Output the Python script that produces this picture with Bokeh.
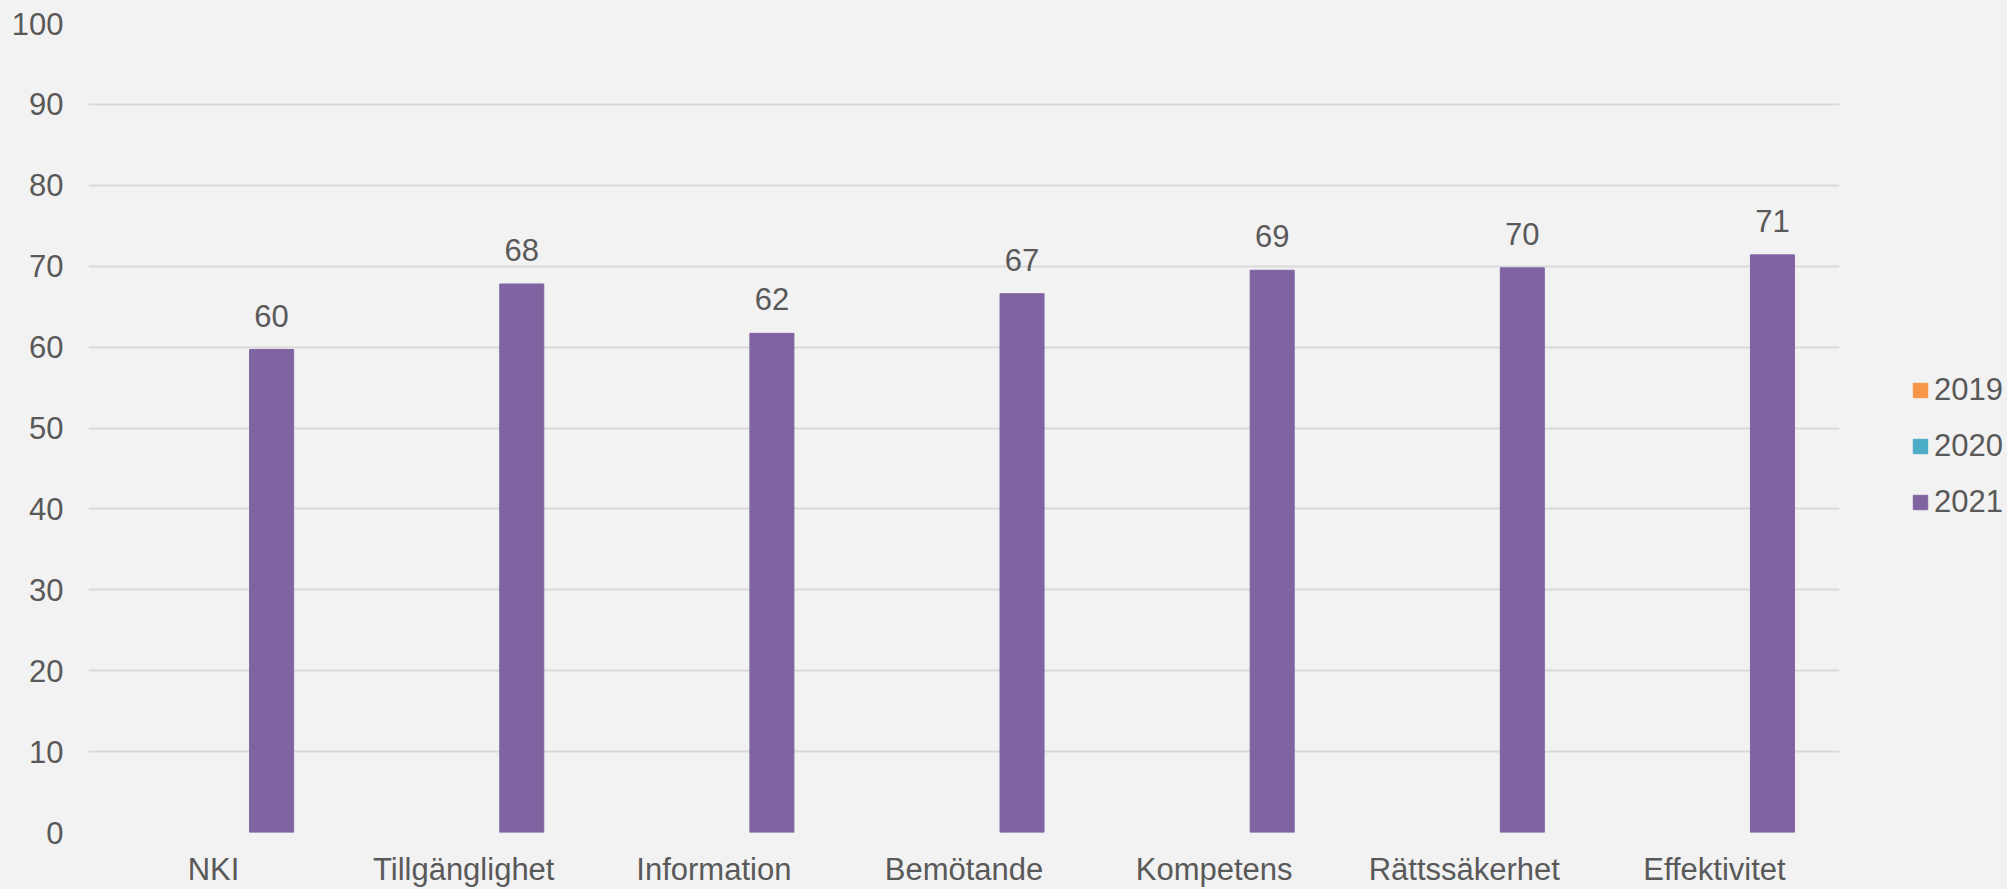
from bokeh.plotting import figure
from bokeh.layouts import row
from bokeh.models import ColumnDataSource, FactorRange, Legend, LegendItem, SingleIntervalTicker, Range1d
from bokeh.transform import dodge
from bokeh.embed import file_html
from bokeh.resources import INLINE

categories = ["NKI", "Tillgänglighet", "Information", "Bemötande", "Kompetens", "Rättssäkerhet", "Effektivitet"]
values_2019 = [float("nan")] * 7
values_2020 = [float("nan")] * 7
values_2021 = [59.7, 67.8, 61.7, 66.6, 69.5, 69.8, 71.4]
labels_2021 = ["60", "68", "62", "67", "69", "70", "71"]
series_names = ["2019", "2020", "2021"]
series_colors = ["#F79646", "#4BACC6", "#8064A2"]

FONT = "Liberation Sans"
TXT = "#595959"
BG = "#F2F2F2"
FS = "31px"

source = ColumnDataSource(dict(cat=categories, v2019=values_2019, v2020=values_2020,
                               v2021=values_2021, lab=labels_2021))

p = figure(x_range=FactorRange(*categories, range_padding=0), y_range=(0, 100),
           width=1845, height=889, output_backend="svg", toolbar_location=None,
           min_border_left=88, min_border_right=6, min_border_top=23, min_border_bottom=55)
p.background_fill_color = BG
p.border_fill_color = BG
p.outline_line_color = None

w = 0.176
off = [-0.232, 0.0, 0.232]
for name, col, o in zip(series_names, series_colors, off):
    p.vbar(x=dodge("cat", o, range=p.x_range), top="v" + name, width=w, source=source,
           fill_color=col, line_color=col)

p.text(x=dodge("cat", off[2], range=p.x_range), y="v2021", text="lab", source=source,
       text_align="center", text_baseline="alphabetic", y_offset=-34,
       text_font={"value": FONT}, text_font_size=FS, text_color=TXT)

p.yaxis.ticker = SingleIntervalTicker(interval=10)
for ax in (p.xaxis, p.yaxis):
    ax.axis_line_color = None
    ax.major_tick_line_color = None
    ax.minor_tick_line_color = None
    ax.major_tick_out = 0
    ax.major_tick_in = 0
    ax.major_label_text_font = FONT
    ax.major_label_text_font_size = FS
    ax.major_label_text_color = TXT
p.yaxis.major_label_standoff = 21
p.xaxis.major_label_standoff = 19

p.xgrid.grid_line_color = None
p.ygrid.grid_line_color = "#D9D9D9"
p.ygrid.grid_line_width = 2

# Legend panel (separate figure to the right of the plot area); hidden renderers feed the legend
lp = figure(x_range=p.x_range, y_range=Range1d(0, 100), width=162, height=889,
            output_backend="svg", toolbar_location=None,
            min_border_left=0, min_border_right=0, min_border_top=0, min_border_bottom=0)
lp.background_fill_color = BG
lp.border_fill_color = BG
lp.outline_line_color = None
lp.axis.visible = False
lp.grid.visible = False
leg_renderers = []
for name, col, o in zip(series_names, series_colors, off):
    r = lp.vbar(x=dodge("cat", o, range=lp.x_range), top="v" + name, width=w, source=source,
                fill_color=col, line_color=col, visible=False)
    leg_renderers.append(r)

legend = Legend(items=[LegendItem(label=n, renderers=[r]) for n, r in zip(series_names, leg_renderers)],
                location=(66, 312), orientation="vertical")
legend.background_fill_alpha = 0
legend.border_line_color = None
legend.inactive_fill_alpha = 0
legend.padding = 0
legend.margin = 0
legend.glyph_width = 18
legend.glyph_height = 18
legend.label_standoff = 5
legend.label_height = 30
legend.spacing = 20
legend.label_text_font = FONT
legend.label_text_font_size = FS
legend.label_text_color = TXT
lp.add_layout(legend, "center")

layout = row(p, lp, spacing=0)
layout.styles = {"background-color": BG}
open("out.html", "w").write(file_html(layout, INLINE))
